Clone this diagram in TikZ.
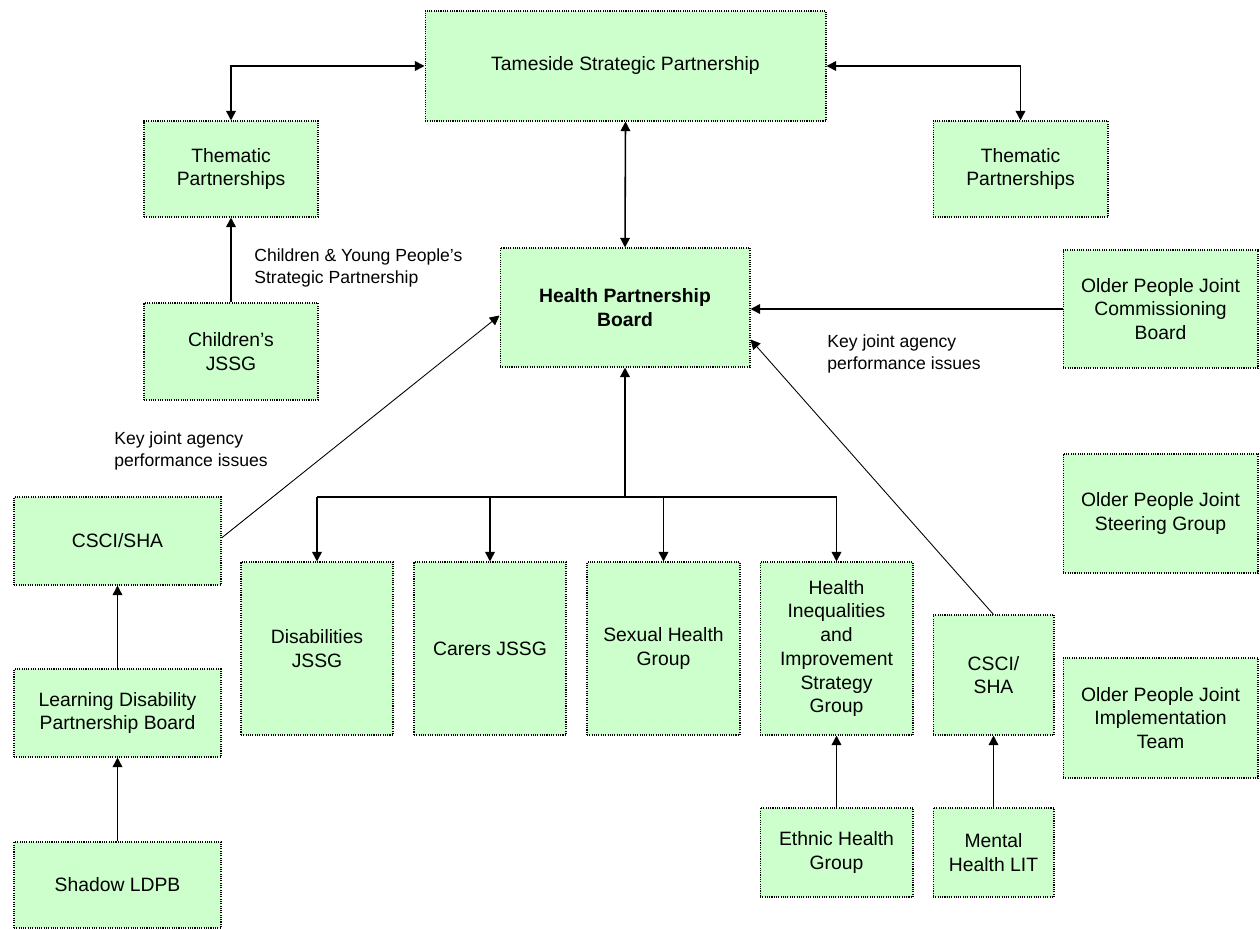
\documentclass[tikz,border=0pt]{standalone}
\usepackage{fontspec}
\setmainfont{Liberation Sans}
\usetikzlibrary{arrows.meta, positioning, calc}
\definecolor{boxgreen}{RGB}{204,255,204}

\begin{document}
\begin{tikzpicture}[x=0.02cm, y=-0.02cm, >={Triangle[length=5.5pt, width=5.5pt]},
	box/.style={draw, fill=boxgreen, line width=0.6pt, dash pattern=on 0.6pt off 0.7pt, align=center, inner sep=2pt, font=\fontsize{11}{13.5}\selectfont},
	link/.style={line width=0.9pt},
	diag/.style={line width=0.5pt},
	note/.style={align=left, anchor=west, inner sep=0pt, font=\fontsize{10}{12.5}\selectfont}]
	\useasboundingbox (0,0) rectangle (1260,929);
	% top row
	\node[box, minimum width=8.02cm, minimum height=2.2cm] (tameside) at (625.5,66) {Tameside Strategic Partnership};
	\node[box, minimum width=3.48cm, minimum height=1.92cm] (themL) at (231,169) {Thematic\\Partnerships};
	\node[box, minimum width=3.5cm, minimum height=1.92cm] (themR) at (1020.5,169) {Thematic\\Partnerships};
	\node[box, minimum width=5cm, minimum height=2.38cm] (hpb) at (625,307.5) {\textbf{Health Partnership}\\\textbf{Board}};
	\node[box, minimum width=3.48cm, minimum height=1.94cm] (childrens) at (231,351.5) {Children{\char"27}s\\JSSG};
	% left column
	\node[box, minimum width=4.14cm, minimum height=1.76cm] (csciL) at (117.5,541) {CSCI/SHA};
	\node[box, minimum width=4.14cm, minimum height=1.76cm] (ldpb) at (117.5,713) {Learning Disability\\Partnership Board};
	\node[box, minimum width=4.14cm, minimum height=1.72cm] (shadow) at (117.5,885) {Shadow LDPB};
	% right column
	\node[box, minimum width=3.9cm, minimum height=2.36cm] (opjcb) at (1160.5,309) {Older People Joint\\Commissioning\\Board};
	\node[box, minimum width=3.9cm, minimum height=2.38cm] (opjsg) at (1160.5,513.5) {Older People Joint\\Steering Group};
	\node[box, minimum width=3.9cm, minimum height=2.4cm] (opjit) at (1160.5,718) {Older People Joint\\Implementation\\Team};
	% groups under the board
	\node[box, minimum width=3.04cm, minimum height=3.46cm] (disab) at (317,648.5) {Disabilities\\JSSG};
	\node[box, minimum width=3.04cm, minimum height=3.46cm] (carers) at (490,648.5) {Carers JSSG};
	\node[box, minimum width=3.06cm, minimum height=3.46cm] (sexual) at (663.5,648.5) {Sexual Health\\Group};
	\node[box, minimum width=3.06cm, minimum height=3.46cm] (hineq) at (836.5,648.5) {Health\\Inequalities\\and\\Improvement\\Strategy\\Group};
	\node[box, minimum width=2.42cm, minimum height=2.4cm] (csciR) at (993.5,675) {CSCI/\\SHA};
	\node[box, minimum width=3.06cm, minimum height=1.78cm] (ethnic) at (836.5,852.5) {Ethnic Health\\Group};
	\node[box, minimum width=2.42cm, minimum height=1.78cm] (mental) at (993.5,852.5) {Mental\\Health LIT};
	% notes
	\node[note] (cypsp) at (254,268) {Children \& Young People{\char"27}s\\Strategic Partnership};
	\node[note] (keyL) at (114,451) {Key joint agency\\performance issues};
	\node[note] (keyR) at (827,354) {Key joint agency\\performance issues};
	% connectors
	\draw[link, <->] (tameside.west) -| (themL.north);
	\draw[link, <->] (tameside.east) -| (themR.north);
	\draw[link, <->] (tameside.south) -- (hpb.north);
	\draw[link, ->] (childrens.north) -- (themL.south);
	\draw[link, ->] (opjcb.west) -- (opjcb.west -| hpb.east);
	\draw[diag, ->] ([yshift=0.06cm]csciL.east) -- ([yshift=-0.16cm]hpb.west);
	\draw[diag, ->] (csciR.north) -- ([yshift=-0.64cm]hpb.east);
	\coordinate (split) at (625,497);
	\draw[link, ->] (split) -- (hpb.south);
	\draw[link] (disab.north |- split) -- (hineq.north |- split);
	\foreach \grp in {disab, carers, sexual, hineq}
		\draw[link, ->] (\grp.north |- split) -- (\grp.north);
	\draw[link, ->] (ldpb.north) -- (csciL.south);
	\draw[link, ->] (shadow.north) -- (ldpb.south);
	\draw[link, ->] (ethnic.north) -- (hineq.south);
	\draw[link, ->] (mental.north) -- (csciR.south);
\end{tikzpicture}
\end{document}
